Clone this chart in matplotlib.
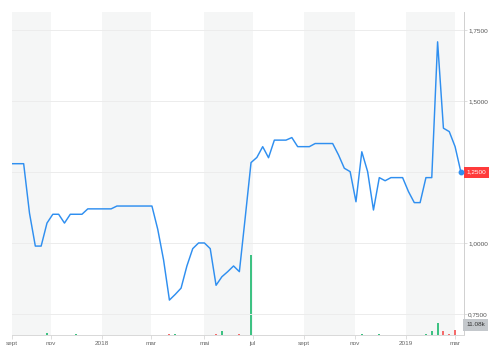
import matplotlib
matplotlib.use("Agg")
import matplotlib.pyplot as plt
import pandas as pd

# weekly closes from 2017-09-15
start_date = "2017-09-15"
prices = [1.28, 1.28, 1.28, 1.106, 0.99, 0.99, 1.071, 1.102, 1.102, 1.071,
          1.102, 1.102, 1.102, 1.121, 1.121, 1.121, 1.121, 1.121, 1.131, 1.131,
          1.131, 1.131, 1.131, 1.131, 1.131, 1.049, 0.941, 0.80, 0.82, 0.842,
          0.92, 0.981, 1.001, 1.001, 0.981, 0.852, 0.882, 0.90, 0.92, 0.90,
          1.09, 1.284, 1.302, 1.34, 1.301, 1.363, 1.363, 1.363, 1.372, 1.34,
          1.34, 1.34, 1.351, 1.351, 1.351, 1.351, 1.311, 1.264, 1.252, 1.146,
          1.322, 1.252, 1.117, 1.231, 1.22, 1.231, 1.231, 1.231, 1.182, 1.143,
          1.143, 1.231, 1.231, 1.709, 1.405, 1.393, 1.34, 1.25]
volumes_k = [0, 0, 0, 1.1, 0, 0, 4.4, 0, 0, 0,
             0, 2.9, 0, 0, 0, 0, 0, 0, 0, 0,
             0, 0, 0, 0, 0, 0, 1.1, 2.2, 2.2, 0,
             0.4, 0.4, 0, 0, 0, 2.9, 8.9, 0, 0, 2.9,
             0, 177, 0.4, 0.4, 0.4, 0, 0, 0, 0, 0,
             0, 0, 0, 0, 0, 0, 0, 0, 0, 0,
             3.3, 0, 0, 2.9, 0.4, 0, 0, 0, 0, 0.4,
             0.4, 2.9, 8.9, 26.6, 8.9, 2.9, 11.08, 0]
tick_dates = ["2017-09-15", "2017-11-01", "2018-01-01", "2018-03-01", "2018-05-04",
              "2018-07-01", "2018-09-01", "2018-11-01", "2019-01-01", "2019-03-01"]
tick_labels = ["sept", "nov", "2018", "mar", "mai", "jul", "sept", "nov", "2019", "mar"]
y_ticks = [0.75, 1.0, 1.25, 1.5, 1.75]
last_label = "1,2500"
vol_label = "11.08k"

FONT = ["Liberation Sans Narrow", "Liberation Sans", "DejaVu Sans"]

dates = pd.date_range(start_date, periods=len(prices), freq="7D")
tdates = pd.to_datetime(tick_dates)

fig = plt.figure(figsize=(4.92, 3.47), dpi=100)
axv = fig.add_axes([12/492, 12/347, 452/492, 323/347])
x_left = pd.Timestamp(start_date)
x_right = x_left + pd.Timedelta(days=542.7)
axv.set_xlim(x_left, x_right)
axv.set_ylim(0, 715)

# alternating shaded bands (bottom layer)
for i in range(0, len(tdates) - 1, 2):
    axv.axvspan(tdates[i], tdates[i + 1], color="#f5f6f6", zorder=0, lw=0)

# volume bars
cols = []
for i in range(len(prices)):
    if i > 0 and prices[i] < prices[i - 1]:
        cols.append("#f56b6b")
    else:
        cols.append("#3ec283")
axv.bar(dates, volumes_k, width=2.4, color=cols, zorder=2, lw=0)
axv.axis("off")

ax = fig.add_axes([12/492, 12/347, 452/492, 323/347], sharex=axv)
ax.patch.set_visible(False)
ax.set_ylim(0.677, 1.814)

for yv in y_ticks:
    ax.axhline(yv, color="#ececec", lw=0.7, zorder=1)

ax.plot(dates, prices, color="#2f8ff0", lw=1.05, zorder=3)
ax.plot([dates[-1]], [prices[-1]], "o", color="#2f8ff0", ms=3.2, zorder=4)

for s in ["top", "left"]:
    ax.spines[s].set_visible(False)
ax.spines["right"].set_color("#d0d0d0")
ax.spines["right"].set_linewidth(0.7)
ax.spines["bottom"].set_color("#d8d8d8")
ax.spines["bottom"].set_linewidth(0.7)

ax.yaxis.tick_right()
ax.set_yticks(y_ticks)
# the 1,2500 tick text is covered by the last-price badge, as in the original
ylabels = [f"{v:.4f}".replace(".", ",") for v in y_ticks]
ylabels = ["" if lab == last_label else lab for lab in ylabels]
ax.set_yticklabels(ylabels, family=FONT)
ax.tick_params(axis="y", length=2, width=0.5, color="#d0d0d0", labelsize=4.6,
               labelcolor="#555555", pad=1.0)
ax.set_xticks(tdates)
ax.set_xticklabels(tick_labels, family=FONT)
ax.tick_params(axis="x", length=3, width=0.5, color="#d0d0d0", labelsize=4.6,
               labelcolor="#666666", pad=1.5)

# last price / volume labels
ax.annotate(last_label, xy=(1.0, prices[-1]), xycoords=("axes fraction", "data"),
            xytext=(1.8, 0), textcoords="offset points", ha="left", va="center",
            fontsize=4.6, color="white", family=FONT,
            bbox=dict(boxstyle="square,pad=0.45", fc="#ff3b3b", ec="none"))
ax.annotate(vol_label, xy=(1.0, 0.031), xycoords="axes fraction",
            xytext=(1.8, 0), textcoords="offset points", ha="left", va="center",
            fontsize=4.6, color="#333333", family=FONT,
            bbox=dict(boxstyle="square,pad=0.5", fc="#c4c8cc", ec="none"))

fig.savefig("out.png", dpi=100)
